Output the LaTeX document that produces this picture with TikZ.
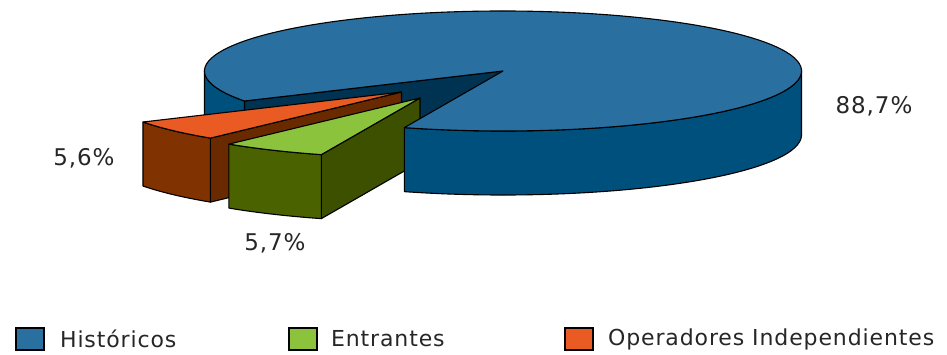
\documentclass[tikz,border=0pt]{standalone}
\usepackage{fontspec}
\setmainfont{DejaVu Sans}[LetterSpace=4]
\usepackage{xcolor}
\usetikzlibrary{calc, positioning}

\definecolor{histTop}{RGB}{41,112,161}
\definecolor{histSide}{RGB}{0,80,125}
\definecolor{histCut}{RGB}{0,50,82}
\definecolor{entrTop}{RGB}{139,195,60}
\definecolor{entrSide}{RGB}{74,98,0}
\definecolor{entrCut}{RGB}{60,80,0}
\definecolor{operTop}{RGB}{234,90,35}
\definecolor{operSide}{RGB}{128,50,0}
\definecolor{operCut}{RGB}{106,42,0}

\tikzset{
	pieface/.style = {draw = black, line width = 1.1pt, line join = round},
	pct/.style = {font = \fontsize{23}{27}\selectfont, text = black!85},
	keybox/.style = {draw = black, line width = 1.8pt, minimum width = 28pt, minimum height = 22pt, inner sep = 0pt},
	keytext/.style = {font = \fontsize{22}{26}\selectfont, text = black!85, inner sep = 0pt}
}

\begin{document}
\begin{tikzpicture}[x = 1pt, y = -1pt]
			\def\rX{298.5};
			\def\rY{60};
			\def\dH{64};

			\useasboundingbox (0,0) rectangle (947,354);

			\coordinate (C) at (503,71);
			\coordinate (Co) at (401.5,92);
			\coordinate (Cg) at (420,98);

			% historicos, back parts
			\draw [pieface, fill = histCut] (C) -- ($(C)+(150:{\rX} and {\rY})$) -- ++(0,\dH) -- ($(C)+(0,\dH)$) -- cycle;
			\draw [pieface, fill = histSide] ($(C)+(150:{\rX} and {\rY})$) arc [start angle = 150, end angle = 180, x radius = \rX, y radius = \rY] -- ++(0,\dH) arc [start angle = 180, end angle = 150, x radius = \rX, y radius = \rY] -- cycle;

			% operadores independientes
			\draw [pieface, fill = operCut] (Co) -- ($(Co)+(129.8:{\rX} and {\rY})$) -- ++(0,\dH) -- ($(Co)+(0,\dH)$) -- cycle;
			\draw [pieface, fill = operSide] ($(Co)+(129.8:{\rX} and {\rY})$) arc [start angle = 129.8, end angle = 150, x radius = \rX, y radius = \rY] -- ++(0,\dH) arc [start angle = 150, end angle = 129.8, x radius = \rX, y radius = \rY] -- cycle;
			\draw [pieface, fill = operTop] (Co) -- ($(Co)+(129.8:{\rX} and {\rY})$) arc [start angle = 129.8, end angle = 150, x radius = \rX, y radius = \rY] -- cycle;

			% entrantes
			\draw [pieface, fill = entrCut] (Cg) -- ($(Cg)+(109.3:{\rX} and {\rY})$) -- ++(0,\dH) -- ($(Cg)+(0,\dH)$) -- cycle;
			\draw [pieface, fill = entrSide] ($(Cg)+(109.3:{\rX} and {\rY})$) arc [start angle = 109.3, end angle = 129.8, x radius = \rX, y radius = \rY] -- ++(0,\dH) arc [start angle = 129.8, end angle = 109.3, x radius = \rX, y radius = \rY] -- cycle;
			\draw [pieface, fill = entrTop] (Cg) -- ($(Cg)+(109.3:{\rX} and {\rY})$) arc [start angle = 109.3, end angle = 129.8, x radius = \rX, y radius = \rY] -- cycle;

			% historicos, front parts
			\draw [pieface, fill = histSide] ($(C)+(0:{\rX} and {\rY})$) arc [start angle = 0, end angle = 109.3, x radius = \rX, y radius = \rY] -- ++(0,\dH) arc [start angle = 109.3, end angle = 0, x radius = \rX, y radius = \rY] -- cycle;
			\draw [pieface, fill = histTop] (C) -- ($(C)+(150:{\rX} and {\rY})$) arc [start angle = 150, end angle = 469.3, x radius = \rX, y radius = \rY] -- cycle;

			% percentages
			\node [pct] (pHist) at (874,106) {88,7\%};
			\node [pct] (pOper) at (84,158) {5,6\%};
			\node [pct] (pEntr) at (275,243) {5,7\%};

			% legend
			\node [keybox, fill = histTop] (kHist) at (30,339) {};
			\node [keytext, right = 15pt of kHist] (tHist) {Históricos};
			\node [keybox, fill = entrTop] (kEntr) at (303,339) {};
			\node [keytext, right = 13pt of kEntr] (tEntr) {Entrantes};
			\node [keybox, fill = operTop] (kOper) at (579,339) {};
			\node [keytext, right = 14pt of kOper] (tOper) {Operadores Independientes};
		\end{tikzpicture}
\end{document}
